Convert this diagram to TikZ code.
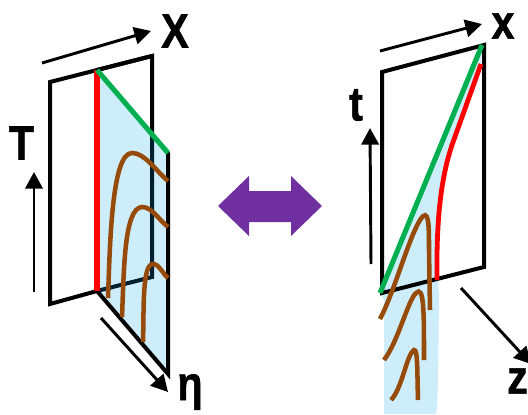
\documentclass[tikz,border=0pt]{standalone}
\usepackage{fontspec}
\setmainfont{Liberation Sans}
\newfontfamily\labfont[FakeBold=1.2]{Liberation Sans Bold}
\usetikzlibrary{arrows.meta}
\definecolor{skyfill}{HTML}{CDEDFA}
\definecolor{grn}{HTML}{00B050}
\definecolor{brn}{HTML}{964B0B}
\definecolor{pur}{HTML}{7030A0}
\definecolor{darkline}{HTML}{00202F}
\tikzset{
 plane/.style={draw=black,line width=3pt,line join=miter},
 axis/.style={draw=black,line width=2.2pt,-{Triangle[length=12.5pt,width=13pt]}},
 greenline/.style={draw=grn,line width=3.8pt},
 redline/.style={draw=red,line width=4.2pt},
 thinred/.style={draw=red,line width=3.6pt},
 wave/.style={draw=brn,line width=3.4pt},
 lab/.style={inner sep=0pt,font=\labfont\fontsize{36}{36}\selectfont,transform shape,xscale=.86}
}
\begin{document}
\begin{tikzpicture}[x=.75pt,y=-.75pt]
\useasboundingbox (0,0) rectangle (528,414);
\clip (0,0) rectangle (528,414);
% left
\coordinate (A) at (50,304);\coordinate (B) at (50,82);\coordinate (C) at (152,56);\coordinate (D) at (152,277);
\coordinate (E) at (97,70);\coordinate (F) at (97,291);\coordinate (G) at (168,153);\coordinate (H) at (168,374);
\draw[plane] (F) -- (A) -- (B) -- (C) -- (E);
\fill[skyfill] (E) -- (G) -- (H) -- (F) -- cycle;
\draw[plane] (E) -- (C) -- (152,130);
\draw[plane,draw=darkline] (152,130) -- (D) -- (F);
\draw[plane,line cap=round] (F) -- (H) -- (G);
\draw[redline] (E) -- (F);
\draw[greenline] (E) -- (G);
\draw[wave] (108,298) .. controls (110,240) and (112,153) .. (132,153) .. controls (145,153) and (155,170) .. (168,181);
\draw[wave] (122,317) .. controls (124,270) and (124,208) .. (142,207) .. controls (152,207) and (158,219) .. (168,227);
\draw[wave] (143,342) .. controls (144,310) and (142,264) .. (153,264) .. controls (159,264) and (163,274) .. (168,278);
\coordinate (xa) at (42,63);\coordinate (xb) at (151,31);
\coordinate (ta) at (34,292);\coordinate (tb) at (34,172);
\coordinate (ea) at (101,318);\coordinate (eb) at (168,392);
\draw[axis] (xa) -- (xb);\draw[axis] (ta) -- (tb);\draw[axis] (ea) -- (eb);
\node[lab] (lX) at (175,31) {X};
\node[lab] (lT) at (21.5,143) {T};
\node[lab,anchor=base] (leta) at (190,400) {η};
% middle
\fill[pur] (218,206) -- (249,176) -- (249,191) -- (291,191) -- (291,176) -- (322,206) -- (291,236) -- (291,222) -- (249,222) -- (249,236) -- cycle;
% right
\coordinate (a) at (382,293);\coordinate (b) at (382,72);\coordinate (c) at (484,45);\coordinate (d) at (484,267);
\fill[skyfill] (482,46) -- (380,293) -- (384,300) -- (384,414) -- (436,414) .. controls (438,405) and (437,395) .. (438,385) -- (439,300) -- (437,250) .. controls (437,200) and (445,170) .. (452,145) -- (481,65) -- cycle;
\draw[plane] (a) -- (b) -- (c) -- (d) -- cycle;
\coordinate (gt) at (482,45);\coordinate (gb) at (380,293);
\draw[greenline] (gt) -- (gb);
\draw[thinred] (481,64) -- (452,145) .. controls (443,172) and (436,210) .. (437,280);
\draw[wave] (380,319) .. controls (395,290) and (408,240) .. (420,220) .. controls (429,206) and (429,225) .. (429,250) -- (430,310);
\draw[wave] (384,360) .. controls (398,342) and (408,300) .. (416,293) .. controls (424,285) and (424,310) .. (424,360);
\draw[wave] (391,400) .. controls (401,390) and (406,360) .. (412,352) .. controls (418,343) and (417,365) .. (418,400);
\coordinate (xc) at (380,51);\coordinate (xd) at (482,24);
\coordinate (tc) at (371,264);\coordinate (td) at (370,128);
\coordinate (za) at (461,288);\coordinate (zb) at (531,364);
\draw[axis] (xc) -- (xd);\draw[axis] (tc) -- (td);\draw[axis] (za) -- (zb);
\node[lab] (lx) at (503,26) {x};
\node[lab] (lt) at (356,105) {t};
\node[lab,anchor=east] (lz) at (528,381) {z};
\end{tikzpicture}
\end{document}
